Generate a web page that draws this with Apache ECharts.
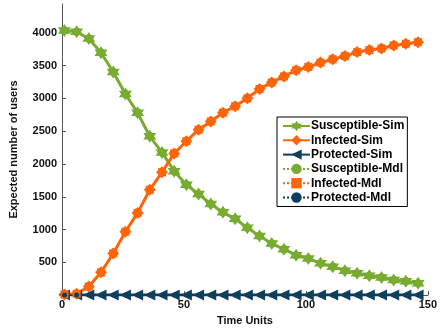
<!DOCTYPE html>
<html><head><meta charset="utf-8">
<script src="https://cdn.jsdelivr.net/npm/echarts@6/dist/echarts.min.js"></script>
<style>html,body{margin:0;padding:0;background:#fff}#c{width:440px;height:331px}</style>
</head><body><div id="c"></div>
<script>
const times = [1,6,11,16,21,26,31,36,41,46,51,56,61,66,71,76,81,86,91,96,101,106,111,116,121,126,131,136,141,146];
const susceptibleSim = [4034,4015,3913,3697,3404,3067,2780,2422,2176,1890,1682,1541,1390,1262,1163,1027,902,786,700,609,559,484,434,373,332,297,267,231,212,181];
const infectedSim = [10,20,131,347,635,967,1254,1606,1874,2161,2347,2523,2649,2783,2881,3002,3143,3244,3335,3430,3480,3546,3596,3646,3707,3737,3762,3808,3833,3858];
const protectedSim = [0,0,0,0,0,0,0,0,0,0,0,0,0,0,0,0,0,0,0,0,0,0,0,0,0,0,0,0,0,0];
const susceptibleMdl = [4034,4015,3913,3697,3404,3067,2780,2422,2176,1890,1682,1541,1390,1262,1163,1027,902,786,700,609,559,484,434,373,332,297,267,231,212,181];
const infectedMdl = [10,20,131,347,635,967,1254,1606,1874,2161,2347,2523,2649,2783,2881,3002,3143,3244,3335,3430,3480,3546,3596,3646,3707,3737,3762,3808,3833,3858];
const protectedMdl = [0,0,0,0,0,0,0,0,0,0,0,0,0,0,0,0,0,0,0,0,0,0,0,0,0,0,0,0,0,0];
const seriesNames = ['Susceptible-Sim','Infected-Sim','Protected-Sim','Susceptible-Mdl','Infected-Mdl','Protected-Mdl'];

const GREEN = '#77AC30', ORANGE = '#FF6407', NAVY = '#0F3F5E';
const FONT = '"Liberation Sans", Arial, sans-serif';
const hexagram = 'path://M0,-10L2.89,-5L8.66,-5L5.77,0L8.66,5L2.89,5L0,10L-2.89,5L-8.66,5L-5.77,0L-8.66,-5L-2.89,-5Z';
const pairs = arr => times.map((t, i) => [t, arr[i]]);

const chart = echarts.init(document.getElementById('c'), null, {renderer: 'canvas'});
chart.setOption({
  animation: false,
  backgroundColor: '#fff',
  grid: {left: 58, right: 10, top: 4, bottom: 33, containLabel: false},
  xAxis: {
    type: 'value', min: 0, max: 150, interval: 50,
    name: 'Time Units', nameLocation: 'middle', nameGap: 15,
    nameTextStyle: {fontFamily: FONT, fontWeight: 'bold', fontSize: 11, color: '#111'},
    axisLine: {lineStyle: {color: '#555', width: 1}},
    axisTick: {inside: true, length: 4, lineStyle: {color: '#555'}},
    axisLabel: {fontFamily: FONT, fontWeight: 'bold', fontSize: 11, color: '#111', margin: 4},
    splitLine: {show: false}
  },
  yAxis: {
    type: 'value', min: 0, max: 4440, interval: 500,
    name: 'Expected number of users', nameLocation: 'middle', nameGap: 43,
    nameTextStyle: {fontFamily: FONT, fontWeight: 'bold', fontSize: 11, color: '#111'},
    axisLine: {show: true, lineStyle: {color: '#555', width: 1}},
    axisTick: {inside: true, length: 4, lineStyle: {color: '#555'}},
    axisLabel: {fontFamily: FONT, fontWeight: 'bold', fontSize: 11, color: '#111', margin: 5,
      showMaxLabel: false, formatter: v => v === 0 ? '' : String(v)},
    splitLine: {show: false}
  },
  legend: {
    orient: 'vertical', left: 277, top: 117,
    data: seriesNames,
    backgroundColor: '#fff', borderColor: '#000', borderWidth: 1, borderRadius: 0,
    padding: [3, 3, 3, 5], itemGap: 2.3, itemWidth: 27, itemHeight: 13,
    textStyle: {fontFamily: FONT, fontWeight: 'bold', fontSize: 12, color: '#000', padding: [0, 0, 0, -4]}
  },
  series: [
    {name: seriesNames[0], type: 'line', data: pairs(susceptibleSim), color: GREEN,
      lineStyle: {width: 3}, symbol: hexagram, symbolSize: 13, z: 2},
    {name: seriesNames[1], type: 'line', data: pairs(infectedSim), color: ORANGE,
      lineStyle: {width: 3}, symbol: 'diamond', symbolSize: 12, z: 2},
    {name: seriesNames[2], type: 'line', data: pairs(protectedSim), color: NAVY,
      lineStyle: {width: 3}, symbol: 'triangle', symbolRotate: 90, symbolSize: 11, z: 2},
    {name: seriesNames[3], type: 'line', data: pairs(susceptibleMdl), color: GREEN,
      lineStyle: {width: 1, type: 'dotted'}, symbol: 'circle', symbolSize: 8, z: 3},
    {name: seriesNames[4], type: 'line', data: pairs(infectedMdl), color: ORANGE,
      lineStyle: {width: 1, type: 'dotted'}, symbol: 'rect', symbolSize: 8, z: 3},
    {name: seriesNames[5], type: 'line', data: pairs(protectedMdl), color: NAVY,
      lineStyle: {width: 1, type: 'dotted'}, symbol: 'circle', symbolSize: 5, z: 3}
  ]
});
</script></body></html>
